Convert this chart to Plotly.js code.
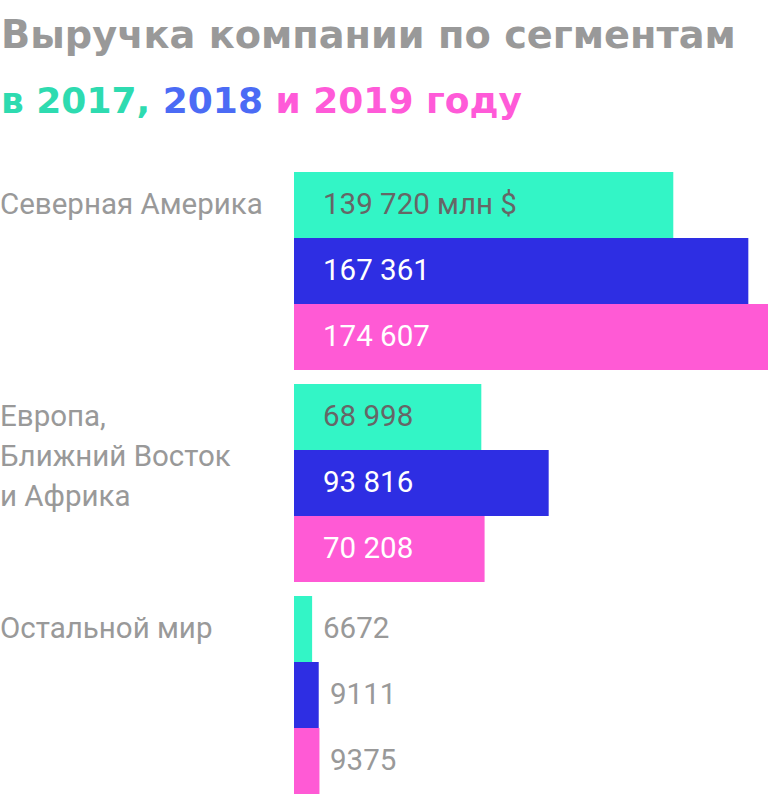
<!DOCTYPE html>
<html>
<head>
<meta charset="utf-8">
<script src="https://cdn.plot.ly/plotly-3.0.1.min.js"></script>
<style>
  html, body { margin: 0; padding: 0; background: #fff; }
  #chart { width: 768px; height: 794px; }
</style>
</head>
<body>
<div id="chart"></div>
<script>
// ---- data ----
var regionLines = [["Северная Америка"], ["Европа,", "Ближний Восток", "и Африка"], ["Остальной мир"]];
var years = ["2017", "2018", "2019"];
var rev2017 = [139720, 68998, 6672];
var rev2018 = [167361, 93816, 9111];
var rev2019 = [174607, 70208, 9375];
var unitSuffix = " млн $";

// ---- styling ----
var barColors = ["#33F5C6", "#2E2EE3", "#FF5AD5"];
var titleYearColors = ["#2EDBB0", "#4B6BF5", "#FF5AD8"];
var insideTextColors = ["#666666", "#FFFFFF", "#FFFFFF"];
var FONT = "Roboto, 'Noto Sans', sans-serif";
var TFONT = "'DejaVu Sans', Roboto, sans-serif";
var LSIZE = 29.5;
var GAP = 14 / 66; // gap between groups in bar units

var series = [rev2017, rev2018, rev2019];
function pos(g, i) { return g * (3 + GAP) + i; }
function fmt(v) {
  var s = String(v);
  if (v < 10000) return s;
  return s.replace(/\B(?=(\d{3})+(?!\d))/g, " ");
}

var traces = [];
var annotations = [];
series.forEach(function (vals, i) {
  var ys = vals.map(function (_, g) { return pos(g, i); });
  traces.push({
    type: "bar",
    orientation: "h",
    x: vals,
    y: ys,
    width: 1,
    name: years[i],
    marker: { color: barColors[i], line: { width: 0 } },
    hoverinfo: "skip"
  });
  vals.forEach(function (v, g) {
    var inside = v > 20000;
    var txt = fmt(v) + (g === 0 && i === 0 ? unitSuffix : "");
    annotations.push({
      xref: "x", yref: "y",
      x: inside ? 0 : v,
      y: pos(g, i),
      xanchor: "left", yanchor: "middle",
      xshift: inside ? 27 : 9,
      yshift: 1,
      text: txt,
      showarrow: false,
      font: { family: FONT, size: LSIZE, color: inside ? insideTextColors[i] : "#999999" }
    });
  });
});

regionLines.forEach(function (lines, g) {
  lines.forEach(function (line, k) {
    annotations.push({
      xref: "paper", yref: "y",
      x: 0, y: pos(g, 0),
      xanchor: "left", yanchor: "middle",
      xshift: -296, yshift: 1 - 40 * k,
      text: line,
      showarrow: false,
      font: { family: FONT, size: LSIZE, color: "#999999" }
    });
  });
});

// title lines
annotations.push({
  xref: "paper", yref: "paper", x: 0, y: 1,
  xanchor: "left", yanchor: "middle",
  xshift: -295, yshift: 138,
  text: "Выручка компании по сегментам",
  showarrow: false,
  font: { family: TFONT, size: 38.3, color: "#999999", weight: 700 }
});
annotations.push({
  xref: "paper", yref: "paper", x: 0, y: 1,
  xanchor: "left", yanchor: "middle",
  xshift: -295, yshift: 72,
  text: "<span style='color:" + titleYearColors[0] + "'>в " + years[0] + ",</span> " +
        "<span style='color:" + titleYearColors[1] + "'>" + years[1] + "</span> " +
        "<span style='color:" + titleYearColors[2] + "'>и " + years[2] + " году</span>",
  showarrow: false,
  font: { family: TFONT, size: 36, color: "#999999", weight: 700 }
});

var layout = {
  width: 768, height: 794,
  margin: { l: 294, r: 0, t: 172, b: 0, pad: 0 },
  paper_bgcolor: "#ffffff",
  plot_bgcolor: "#ffffff",
  showlegend: false,
  barmode: "overlay",
  xaxis: { range: [0, 174607], visible: false, fixedrange: true },
  yaxis: { range: [pos(2, 2) + 0.5, -0.5], visible: false, fixedrange: true },
  annotations: annotations
};

Plotly.newPlot("chart", traces, layout, { displayModeBar: false, staticPlot: true });
</script>
</body>
</html>
